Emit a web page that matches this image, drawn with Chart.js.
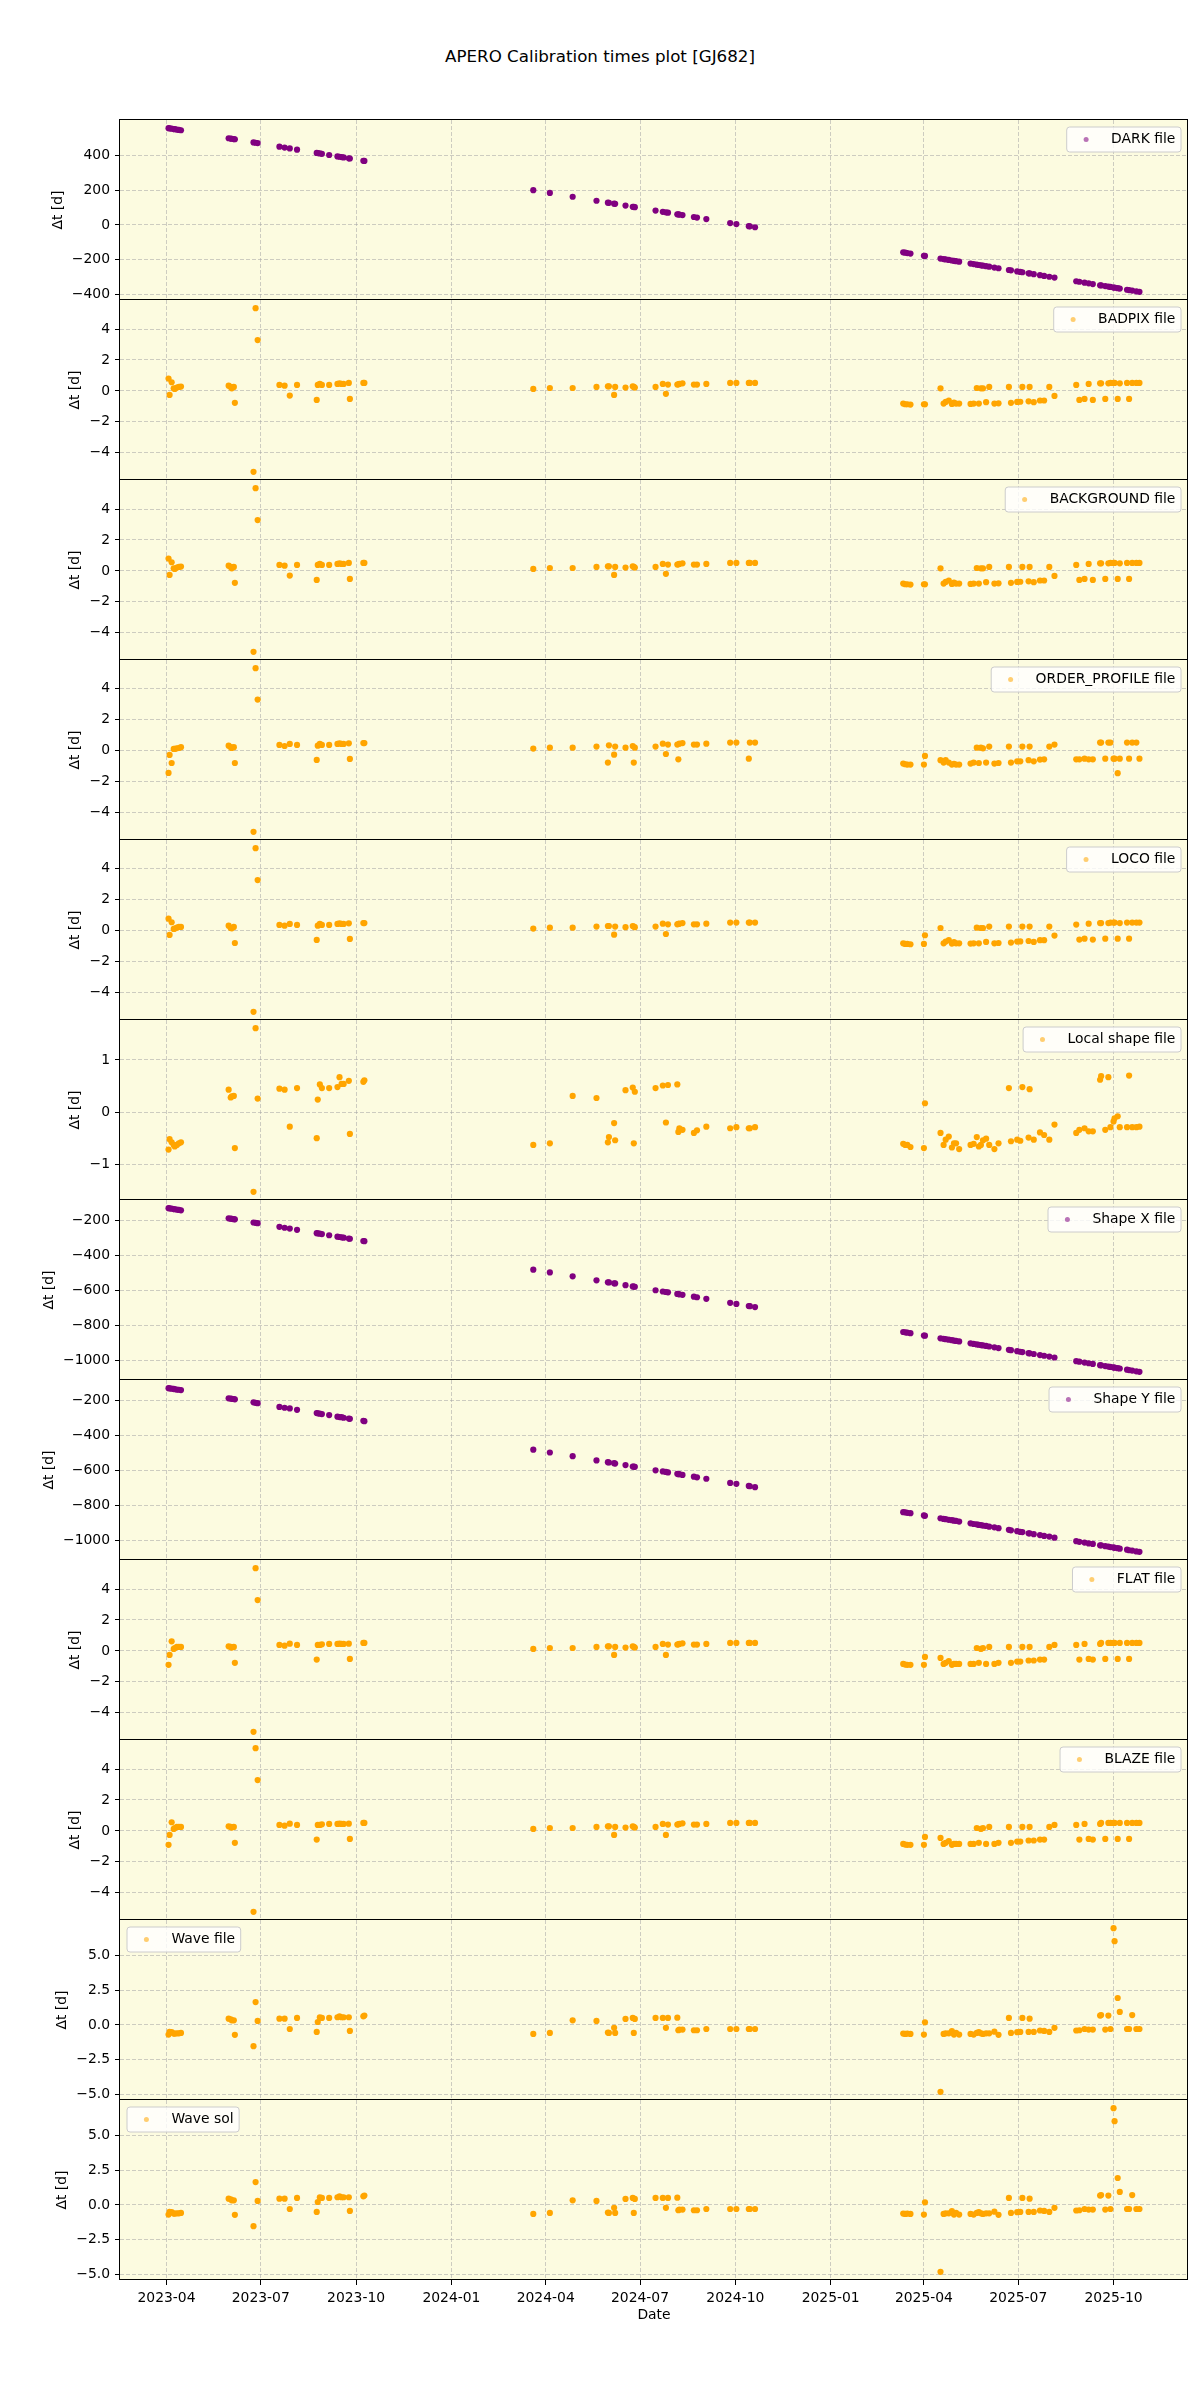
<!DOCTYPE html>
<html><head><meta charset="utf-8">
<script src="https://cdn.jsdelivr.net/npm/chart.js@4.4.1/dist/chart.umd.min.js"></script>
<style>
html,body{margin:0;padding:0;background:#fff;}
#fig{position:relative;width:1200px;height:2400px;background:#fff;overflow:hidden;}
#fig canvas{position:absolute;left:0;}
#title{position:absolute;left:0;width:1200px;top:46px;line-height:20px;text-align:center;font-family:'DejaVu Sans',sans-serif;font-size:16.7px;color:#000;}
</style></head><body>
<div id="fig"><div id="title">APERO Calibration times plot [GJ682]</div></div>
<script>
// ---------- DATA ----------
const obsDates = [
 '2023-04-03','2023-04-04','2023-04-06','2023-04-08','2023-04-09','2023-04-11','2023-04-13','2023-04-15',
 '2023-05-31','2023-06-02','2023-06-03','2023-06-05','2023-06-06','2023-06-24','2023-06-26','2023-06-28',
 '2023-07-19','2023-07-24','2023-07-29','2023-08-05','2023-08-24','2023-08-25','2023-08-27','2023-08-29',
 '2023-09-05','2023-09-13','2023-09-15','2023-09-17','2023-09-19','2023-09-24','2023-09-25','2023-10-08','2023-10-09',
 '2024-03-20','2024-04-05','2024-04-27','2024-05-20','2024-05-31','2024-06-01','2024-06-06','2024-06-07',
 '2024-06-17','2024-06-24','2024-06-25','2024-06-26','2024-07-16','2024-07-23','2024-07-26','2024-07-28',
 '2024-08-06','2024-08-07','2024-08-08','2024-08-11','2024-08-22','2024-08-25','2024-09-03','2024-09-26',
 '2024-10-02','2024-10-14','2024-10-15','2024-10-20',
 '2025-03-12','2025-03-14','2025-03-16','2025-03-19','2025-04-01','2025-04-02','2025-04-17','2025-04-20',
 '2025-04-22','2025-04-25','2025-04-28','2025-04-30','2025-05-02','2025-05-05','2025-05-16','2025-05-19',
 '2025-05-22','2025-05-24','2025-05-26','2025-05-28','2025-05-31','2025-06-03','2025-06-08','2025-06-12',
 '2025-06-22','2025-06-24','2025-06-30','2025-07-03','2025-07-05','2025-07-11','2025-07-12','2025-07-16',
 '2025-07-22','2025-07-26','2025-07-31','2025-08-05','2025-08-26','2025-08-29','2025-09-03','2025-09-07',
 '2025-09-11','2025-09-18','2025-09-19','2025-09-23','2025-09-26','2025-09-28','2025-10-01','2025-10-02',
 '2025-10-05','2025-10-07','2025-10-14','2025-10-16','2025-10-19','2025-10-23','2025-10-26'
];

const darkDt = [
 559,558,556,554,553,551,549,547,501,499,498,496,495,477,475,473,452,447,442,435,416,415,413,411,404,396,394,392,390,385,384,371,370,
 201,185,163,140,129,128,123,122,112,105,104,103,83,76,73,71,62,61,60,57,46,43,34,11,5,-7,-8,-13,
 -158,-160,-162,-165,-178,-179,-194,-197,-199,-202,-205,-207,-209,-212,-223,-226,-229,-231,-233,-235,-238,
 -241,-246,-250,-260,-262,-268,-271,-273,-279,-280,-284,-290,-294,-299,-304,-325,-328,-333,-337,-341,-348,
 -349,-353,-356,-358,-361,-362,-365,-367,-374,-376,-379,-383,-386
];

const badpixDt = [
 0.80,-0.26,0.56,0.17,0.13,0.22,0.26,0.28,0.34,0.26,0.17,0.26,-0.77,-5.23,5.35,3.29,0.39,0.34,-0.30,0.39,-0.58,0.39,0.45,0.39,0.39,0.45,0.49,0.45,0.45,0.52,-0.52,0.52,0.52,
 0.13,0.19,0.19,0.26,0.30,0.30,-0.26,0.26,0.22,0.30,0.26,0.22,0.26,0.45,-0.19,0.41,0.41,0.43,0.45,0.49,0.41,0.41,0.45,0.52,0.52,0.52,0.52,0.52,
 -0.82,-0.86,-0.86,-0.88,-0.86,-0.86,0.17,-0.82,-0.71,-0.62,-0.84,-0.75,-0.82,-0.82,-0.84,-0.82,0.19,-0.82,0.17,0.17,-0.73,
 0.26,-0.82,-0.80,0.26,-0.77,-0.71,-0.70,0.26,-0.67,0.26,-0.73,-0.62,-0.62,0.26,-0.32,0.39,-0.58,
 -0.52,0.45,-0.58,0.49,0.49,-0.52,0.49,0.52,0.52,0.52,-0.52,0.49,0.52,-0.52,0.52,0.52,0.52
];

const backgroundDt = [
 0.80,-0.26,0.56,0.17,0.13,0.22,0.26,0.28,0.34,0.26,0.17,0.26,-0.77,-5.23,5.35,3.29,0.39,0.34,-0.30,0.39,-0.58,0.39,0.45,0.39,0.39,0.45,0.49,0.45,0.45,0.52,-0.52,0.52,0.52,
 0.13,0.19,0.19,0.26,0.30,0.30,-0.26,0.26,0.22,0.30,0.26,0.22,0.26,0.45,-0.19,0.41,0.41,0.43,0.45,0.49,0.41,0.41,0.45,0.52,0.52,0.52,0.52,0.52,
 -0.82,-0.86,-0.86,-0.88,-0.86,-0.86,0.17,-0.82,-0.71,-0.62,-0.84,-0.75,-0.82,-0.82,-0.84,-0.82,0.19,-0.82,0.17,0.17,-0.73,
 0.26,-0.82,-0.80,0.26,-0.77,-0.71,-0.70,0.26,-0.67,0.26,-0.73,-0.62,-0.62,0.26,-0.32,0.39,-0.58,
 -0.52,0.45,-0.58,0.49,0.49,-0.52,0.49,0.52,0.52,0.52,-0.52,0.49,0.52,-0.52,0.52,0.52,0.52
];

const orderProfileDt = [
 -1.44,-0.28,-0.80,0.11,0.11,0.15,0.17,0.22,0.32,0.22,0.17,0.22,-0.80,-5.25,5.33,3.30,0.37,0.30,0.43,0.37,-0.60,0.32,0.43,0.37,0.37,0.43,0.47,0.43,0.43,0.47,-0.54,0.49,0.49,
 0.13,0.19,0.19,0.26,-0.77,0.34,-0.26,0.26,0.19,0.30,-0.77,0.19,0.26,0.45,-0.22,0.39,0.39,-0.56,0.45,0.49,0.39,0.39,0.45,0.52,0.52,-0.52,0.52,0.52,
 -0.84,-0.88,-0.90,-0.90,-0.90,-0.34,-0.62,-0.77,-0.62,-0.77,-0.90,-0.85,-0.90,-0.90,-0.84,-0.77,0.19,-0.80,0.19,0.15,-0.77,
 0.26,-0.84,-0.80,0.26,-0.77,-0.69,-0.69,0.26,-0.62,0.26,-0.69,-0.58,-0.56,0.26,0.39,-0.56,-0.56,
 -0.52,-0.56,-0.56,0.52,0.52,-0.52,0.52,0.52,-0.52,-0.52,-1.46,-0.52,0.52,-0.52,0.52,0.52,-0.52
];

const locoDt = [
 0.77,-0.28,0.54,0.11,0.13,0.19,0.24,0.24,0.32,0.17,0.15,0.24,-0.80,-5.25,5.33,3.27,0.37,0.32,0.43,0.37,-0.60,0.32,0.43,0.37,0.37,0.43,0.47,0.43,0.43,0.47,-0.54,0.49,0.49,
 0.13,0.19,0.19,0.26,0.30,0.30,-0.26,0.26,0.22,0.30,0.26,0.22,0.26,0.45,-0.22,0.41,0.41,0.43,0.45,0.49,0.41,0.41,0.45,0.52,0.52,0.52,0.52,0.52,
 -0.82,-0.86,-0.86,-0.88,-0.86,-0.30,0.17,-0.82,-0.71,-0.62,-0.84,-0.75,-0.82,-0.82,-0.84,-0.82,0.19,-0.82,0.17,0.17,-0.73,
 0.26,-0.82,-0.80,0.26,-0.77,-0.71,-0.70,0.26,-0.67,0.26,-0.73,-0.62,-0.62,0.26,-0.32,0.39,-0.58,
 -0.52,0.45,-0.58,0.49,0.49,-0.52,0.49,0.52,0.52,0.52,-0.52,0.49,0.52,-0.52,0.52,0.52,0.52
];

const localShapeDt = [
 -0.72,-0.52,-0.58,-0.63,-0.66,-0.63,-0.60,-0.58,0.43,0.28,0.30,0.31,-0.69,-1.53,1.61,0.26,0.45,0.43,-0.28,0.46,-0.50,0.24,0.53,0.46,0.46,0.48,0.67,0.54,0.54,0.60,-0.42,0.58,0.61,
 -0.63,-0.60,0.31,0.27,-0.58,-0.48,-0.21,-0.54,0.42,0.47,-0.60,0.39,0.46,0.51,-0.20,0.52,0.53,-0.38,-0.31,-0.34,-0.40,-0.35,-0.28,-0.31,-0.29,-0.31,-0.31,-0.29,
 -0.61,-0.63,-0.63,-0.67,-0.69,0.17,-0.40,-0.63,-0.53,-0.47,-0.68,-0.60,-0.60,-0.71,-0.63,-0.61,-0.48,-0.66,-0.63,-0.54,-0.51,
 -0.63,-0.71,-0.60,0.46,-0.56,-0.53,-0.55,0.48,-0.49,0.44,-0.53,-0.39,-0.44,-0.53,-0.24,-0.40,-0.34,
 -0.31,-0.37,-0.37,0.62,0.69,-0.34,0.67,-0.29,-0.18,-0.12,-0.08,-0.29,-0.29,0.70,-0.29,-0.29,-0.28
];

const shapeXDt = [
 -130,-131,-133,-135,-136,-138,-140,-142,-188,-190,-191,-193,-194,-212,-214,-216,-237,-242,-247,-254,-273,-274,-276,-278,-285,-293,-295,-297,-299,-304,-305,-318,-319,
 -482,-498,-520,-543,-554,-555,-560,-561,-571,-578,-579,-580,-600,-607,-610,-612,-621,-622,-623,-626,-637,-640,-649,-672,-678,-690,-691,-696,
 -839,-841,-843,-846,-859,-860,-875,-878,-880,-883,-886,-888,-890,-893,-904,-907,-910,-912,-914,-916,-919,
 -922,-927,-931,-941,-943,-949,-952,-954,-960,-961,-965,-971,-975,-980,-985,-1006,-1009,
 -1014,-1018,-1022,-1029,-1030,-1034,-1037,-1039,-1042,-1043,-1046,-1048,-1055,-1057,-1060,-1064,-1067
];

const shapeYDt = [
 -131,-132,-134,-135,-137,-139,-140,-142,-189,-190,-192,-193,-195,-212,-215,-217,-238,-243,-247,-255,-273,-275,-277,-279,-285,-294,-296,-297,-300,-305,-306,-318,-320,
 -483,-499,-520,-544,-554,-556,-560,-562,-571,-579,-580,-581,-601,-607,-610,-613,-621,-623,-623,-627,-637,-641,-649,-673,-678,-690,-692,-697,
 -840,-841,-844,-846,-859,-861,-875,-879,-880,-884,-886,-889,-890,-894,-904,-908,-910,-913,-914,-917,-919,
 -923,-927,-932,-941,-944,-949,-953,-954,-961,-961,-966,-971,-976,-980,-986,-1006,-1010,
 -1014,-1019,-1022,-1030,-1030,-1035,-1037,-1040,-1042,-1044,-1046,-1049,-1055,-1058,-1060,-1065,-1067
];

const flatDt = [
 -0.90,-0.26,0.62,0.13,0.19,0.26,0.26,0.26,0.30,0.26,0.22,0.26,-0.77,-5.23,5.35,3.29,0.39,0.34,0.47,0.39,-0.56,0.39,0.39,0.43,0.45,0.45,0.47,0.45,0.45,0.47,-0.52,0.52,0.52,
 0.13,0.19,0.19,0.26,0.30,0.30,-0.26,0.26,0.22,0.30,0.26,0.22,0.26,0.45,-0.26,0.41,0.41,0.43,0.45,0.49,0.41,0.41,0.45,0.52,0.52,0.52,0.52,0.52,
 -0.84,-0.88,-0.90,-0.90,-0.90,-0.39,-0.45,-0.84,-0.77,-0.65,-0.90,-0.84,-0.84,-0.84,-0.84,-0.84,0.19,-0.77,0.13,0.19,-0.84,
 0.26,-0.84,-0.77,0.26,-0.77,-0.69,-0.69,0.26,-0.62,0.26,-0.62,-0.56,-0.56,0.26,0.39,0.39,-0.56,
 0.45,-0.52,-0.56,0.45,0.52,-0.52,0.52,0.52,0.52,0.52,-0.52,0.52,0.52,-0.52,0.52,0.52,0.52
];

const blazeDt = [
 -0.90,-0.26,0.56,0.13,0.19,0.26,0.26,0.26,0.30,0.26,0.22,0.26,-0.77,-5.23,5.35,3.29,0.39,0.34,0.47,0.39,-0.56,0.39,0.39,0.43,0.45,0.45,0.47,0.45,0.45,0.47,-0.52,0.52,0.52,
 0.13,0.19,0.19,0.26,0.30,0.30,-0.26,0.26,0.22,0.30,0.26,0.22,0.26,0.45,-0.26,0.41,0.41,0.43,0.45,0.49,0.41,0.41,0.45,0.52,0.52,0.52,0.52,0.52,
 -0.84,-0.88,-0.90,-0.90,-0.90,-0.39,-0.45,-0.84,-0.77,-0.65,-0.90,-0.84,-0.84,-0.84,-0.84,-0.84,0.19,-0.77,0.13,0.19,-0.84,
 0.26,-0.84,-0.77,0.26,-0.77,-0.69,-0.69,0.26,-0.62,0.26,-0.62,-0.56,-0.56,0.26,0.39,0.39,-0.56,
 0.45,-0.52,-0.56,0.45,0.52,-0.52,0.52,0.52,0.52,0.52,-0.52,0.52,0.52,-0.52,0.52,0.52,0.52
];

const waveFileDt = [
 -0.69,-0.50,-0.52,-0.62,-0.62,-0.60,-0.60,-0.57,0.45,0.40,0.33,0.33,-0.71,-1.52,1.64,0.29,0.45,0.45,-0.29,0.50,-0.50,0.21,0.55,0.50,0.50,0.55,0.62,0.55,0.55,0.55,-0.43,0.62,0.67,
 -0.64,-0.57,0.33,0.29,-0.55,-0.57,-0.21,-0.57,0.43,0.50,-0.57,0.43,0.50,0.50,-0.21,0.50,0.52,-0.38,-0.33,-0.33,-0.38,-0.38,-0.29,-0.29,-0.29,-0.29,-0.29,-0.29,
 -0.62,-0.64,-0.62,-0.64,-0.69,0.19,-4.79,-0.64,-0.60,-0.60,-0.45,-0.69,-0.57,-0.69,-0.64,-0.69,-0.57,-0.52,-0.60,-0.64,-0.60,
 -0.60,-0.48,-0.71,0.50,-0.57,-0.52,-0.50,0.50,-0.50,0.45,-0.50,-0.40,-0.43,-0.50,-0.21,-0.40,-0.38,
 -0.29,-0.33,-0.33,0.67,0.71,-0.33,0.67,-0.29,6.93,6.00,1.93,0.93,-0.29,-0.29,0.71,-0.29,-0.29
];

const waveSolDt = [
 -0.69,-0.50,-0.52,-0.62,-0.62,-0.60,-0.60,-0.57,0.45,0.40,0.33,0.33,-0.71,-1.52,1.64,0.29,0.45,0.45,-0.29,0.50,-0.50,0.21,0.55,0.50,0.50,0.55,0.62,0.55,0.55,0.55,-0.43,0.62,0.67,
 -0.64,-0.57,0.33,0.29,-0.55,-0.57,-0.21,-0.57,0.43,0.50,-0.57,0.43,0.50,0.50,-0.21,0.50,0.52,-0.38,-0.33,-0.33,-0.38,-0.38,-0.29,-0.29,-0.29,-0.29,-0.29,-0.29,
 -0.62,-0.64,-0.62,-0.64,-0.69,0.19,-4.79,-0.64,-0.60,-0.60,-0.45,-0.69,-0.57,-0.69,-0.64,-0.69,-0.57,-0.52,-0.60,-0.64,-0.60,
 -0.60,-0.48,-0.71,0.50,-0.57,-0.52,-0.50,0.50,-0.50,0.45,-0.50,-0.40,-0.43,-0.50,-0.21,-0.40,-0.38,
 -0.29,-0.33,-0.33,0.67,0.71,-0.33,0.67,-0.29,6.93,6.00,1.93,0.93,-0.29,-0.29,0.71,-0.29,-0.29
];

const xTickLabels = ['2023-04','2023-07','2023-10','2024-01','2024-04','2024-07','2024-10','2025-01','2025-04','2025-07','2025-10'];
const darkTicks = [-400,-200,0,200,400];
const darkTickLabels = ['\u2212400','\u2212200','0','200','400'];
const calTicks = [-4,-2,0,2,4];
const calTickLabels = ['\u22124','\u22122','0','2','4'];
const localTicks = [-1,0,1];
const localTickLabels = ['\u22121','0','1'];
const shapeTicks = [-1000,-800,-600,-400,-200];
const shapeTickLabels = ['\u22121000','\u2212800','\u2212600','\u2212400','\u2212200'];
const waveTicks = [-5,-2.5,0,2.5,5];
const waveTickLabels = ['\u22125.0','\u22122.5','0.0','2.5','5.0'];

const PURPLE = '#800080';
const ORANGE = '#ffa500';

const panels = [
 {label:'DARK file', values:darkDt, color:PURPLE, ticks:darkTicks, tickLabels:darkTickLabels, legend:'right'},
 {label:'BADPIX file', values:badpixDt, color:ORANGE, ticks:calTicks, tickLabels:calTickLabels, legend:'right'},
 {label:'BACKGROUND file', values:backgroundDt, color:ORANGE, ticks:calTicks, tickLabels:calTickLabels, legend:'right'},
 {label:'ORDER_PROFILE file', values:orderProfileDt, color:ORANGE, ticks:calTicks, tickLabels:calTickLabels, legend:'right'},
 {label:'LOCO file', values:locoDt, color:ORANGE, ticks:calTicks, tickLabels:calTickLabels, legend:'right'},
 {label:'Local shape file', values:localShapeDt, color:ORANGE, ticks:localTicks, tickLabels:localTickLabels, legend:'right'},
 {label:'Shape X file', values:shapeXDt, color:PURPLE, ticks:shapeTicks, tickLabels:shapeTickLabels, legend:'right'},
 {label:'Shape Y file', values:shapeYDt, color:PURPLE, ticks:shapeTicks, tickLabels:shapeTickLabels, legend:'right'},
 {label:'FLAT file', values:flatDt, color:ORANGE, ticks:calTicks, tickLabels:calTickLabels, legend:'right'},
 {label:'BLAZE file', values:blazeDt, color:ORANGE, ticks:calTicks, tickLabels:calTickLabels, legend:'right'},
 {label:'Wave file', values:waveFileDt, color:ORANGE, ticks:waveTicks, tickLabels:waveTickLabels, legend:'left'},
 {label:'Wave sol', values:waveSolDt, color:ORANGE, ticks:waveTicks, tickLabels:waveTickLabels, legend:'left'}
];

// ---------- STYLE / LAYOUT ----------
const BG = 'rgb(252,251,224)';
const GRID = 'rgba(165,165,165,0.55)';
const FONT = "'DejaVu Sans', 'Liberation Sans', sans-serif";
const FS = 13.9;
const FIG_TOP = 120, PANEL_H = 180, PAD = 16, RIGHT_PAD = 12, Y_W = 120, X_H = 44;

const toDay = s => Date.parse(s + 'T00:00:00Z') / 86400000;
const xs = obsDates.map(toDay);
const xMin0 = Math.min(...xs), xMax0 = Math.max(...xs);
const xMargin = 0.05 * (xMax0 - xMin0);
const xTickVals = xTickLabels.map(l => toDay(l + '-01'));

function hexA(hex, a) {
  const n = parseInt(hex.slice(1), 16);
  return `rgba(${(n>>16)&255},${(n>>8)&255},${n&255},${a})`;
}

const deco = {
  id: 'deco',
  beforeDraw(chart) {
    const {ctx, chartArea: a} = chart;
    ctx.save();
    ctx.fillStyle = BG;
    ctx.fillRect(a.left, a.top, a.right - a.left, a.bottom - a.top);
    ctx.restore();
  },
  afterDraw(chart, args, opts) {
    const {ctx, chartArea: a} = chart;
    ctx.save();
    // frame (crisp 1px lines)
    ctx.fillStyle = '#000';
    const L = Math.round(a.left), R = Math.round(a.right), T = Math.round(a.top), B = Math.round(a.bottom);
    ctx.fillRect(L - 1, T - 1, R - L + 1, 1);
    ctx.fillRect(L - 1, B - 1, R - L + 1, 1);
    ctx.fillRect(L - 1, T - 1, 1, B - T + 1);
    ctx.fillRect(R - 1, T - 1, 1, B - T + 1);
    // y label
    ctx.font = `${FS}px ${FONT}`;
    let maxW = 0;
    chart.scales.y.ticks.forEach(t => { maxW = Math.max(maxW, ctx.measureText(String(t.label)).width); });
    const cx = a.left - 5 - 5 - maxW - 5.6 - 8.1;
    ctx.save();
    ctx.translate(cx, (a.top + a.bottom) / 2);
    ctx.rotate(-Math.PI / 2);
    ctx.fillStyle = '#000';
    ctx.textAlign = 'center';
    ctx.textBaseline = 'middle';
    ctx.fillText('\u0394t [d]', 0, 0);
    ctx.restore();
    // legend
    const label = opts.label;
    const tw = ctx.measureText(label).width;
    const w = 50 + tw, h = 25;
    const x0 = opts.side === 'left' ? a.left + 7 : a.right - 7 - w;
    const y0 = a.top + 7;
    ctx.beginPath();
    if (ctx.roundRect) ctx.roundRect(x0, y0, w, h, 3); else ctx.rect(x0, y0, w, h);
    ctx.fillStyle = 'rgba(255,255,255,0.8)';
    ctx.fill();
    ctx.strokeStyle = '#cccccc';
    ctx.lineWidth = 1;
    ctx.stroke();
    ctx.beginPath();
    ctx.arc(x0 + 19.4, y0 + h / 2, 2.5, 0, Math.PI * 2);
    ctx.fillStyle = hexA(opts.color, 0.55);
    ctx.fill();
    ctx.fillStyle = '#000';
    ctx.textAlign = 'left';
    ctx.textBaseline = 'middle';
    ctx.fillText(label, x0 + 44.4, y0 + h / 2);
    ctx.restore();
  }
};

const fig = document.getElementById('fig');

panels.forEach((p, i) => {
  const last = i === panels.length - 1;
  const xh = last ? X_H : 0;
  const H = PAD + PANEL_H + xh + PAD;
  const cv = document.createElement('canvas');
  cv.width = 1200; cv.height = H;
  cv.style.width = '1200px'; cv.style.height = H + 'px';
  cv.style.top = (FIG_TOP + i * PANEL_H - PAD) + 'px';
  fig.appendChild(cv);

  const vals = p.values.filter(v => v !== null && v !== undefined);
  const yMin0 = Math.min(...vals), yMax0 = Math.max(...vals);
  const yMargin = 0.05 * (yMax0 - yMin0);
  const points = [];
  obsDates.forEach((d, k) => { if (p.values[k] !== null && p.values[k] !== undefined) points.push({x: xs[k], y: p.values[k]}); });

  new Chart(cv, {
    type: 'scatter',
    data: {datasets: [{
      label: p.label, data: points,
      backgroundColor: p.color, pointBackgroundColor: p.color, pointBorderColor: p.color,
      pointBorderWidth: 0, borderWidth: 0, pointRadius: 3.1, pointHoverRadius: 3.1
    }]},
    options: {
      responsive: false, animation: false, devicePixelRatio: 1, events: [],
      layout: {padding: {top: PAD, bottom: PAD, left: 0, right: RIGHT_PAD}},
      plugins: {legend: {display: false}, tooltip: {enabled: false}, title: {display: false},
                deco: {label: p.label, side: p.legend, color: p.color}},
      scales: {
        x: {
          type: 'linear', position: 'bottom',
          min: xMin0 - xMargin, max: xMax0 + xMargin,
          afterBuildTicks: s => { s.ticks = xTickVals.map(v => ({value: v})); },
          afterFit: s => { s.height = xh; s.paddingLeft = 0; s.paddingRight = 0; },
          ticks: {display: last, autoSkip: false, maxRotation: 0, minRotation: 0, padding: 5, color: '#000',
                  font: {family: FONT, size: FS},
                  callback: v => { const k = xTickVals.indexOf(v); return k >= 0 ? xTickLabels[k] : ''; }},
          grid: {color: GRID, lineWidth: 1, drawTicks: last, tickLength: 5, tickColor: '#000', tickWidth: 1},
          border: {display: false, dash: [4, 2]},
          title: {display: last, text: 'Date', color: '#000', font: {family: FONT, size: FS}, padding: {top: 0, bottom: 0}}
        },
        y: {
          type: 'linear', position: 'left',
          min: yMin0 - yMargin, max: yMax0 + yMargin,
          afterBuildTicks: s => { s.ticks = p.ticks.map(v => ({value: v})); },
          afterFit: s => { s.width = Y_W; s.paddingTop = 0; s.paddingBottom = 0; },
          ticks: {autoSkip: false, padding: 5, color: '#000', font: {family: FONT, size: FS},
                  callback: v => { const k = p.ticks.indexOf(v); return k >= 0 ? p.tickLabels[k] : ''; }},
          grid: {color: GRID, lineWidth: 1, drawTicks: true, tickLength: 5, tickColor: '#000', tickWidth: 1},
          border: {display: false, dash: [4, 2]},
          title: {display: false}
        }
      }
    },
    plugins: [deco]
  });
});
</script>
</body></html>
